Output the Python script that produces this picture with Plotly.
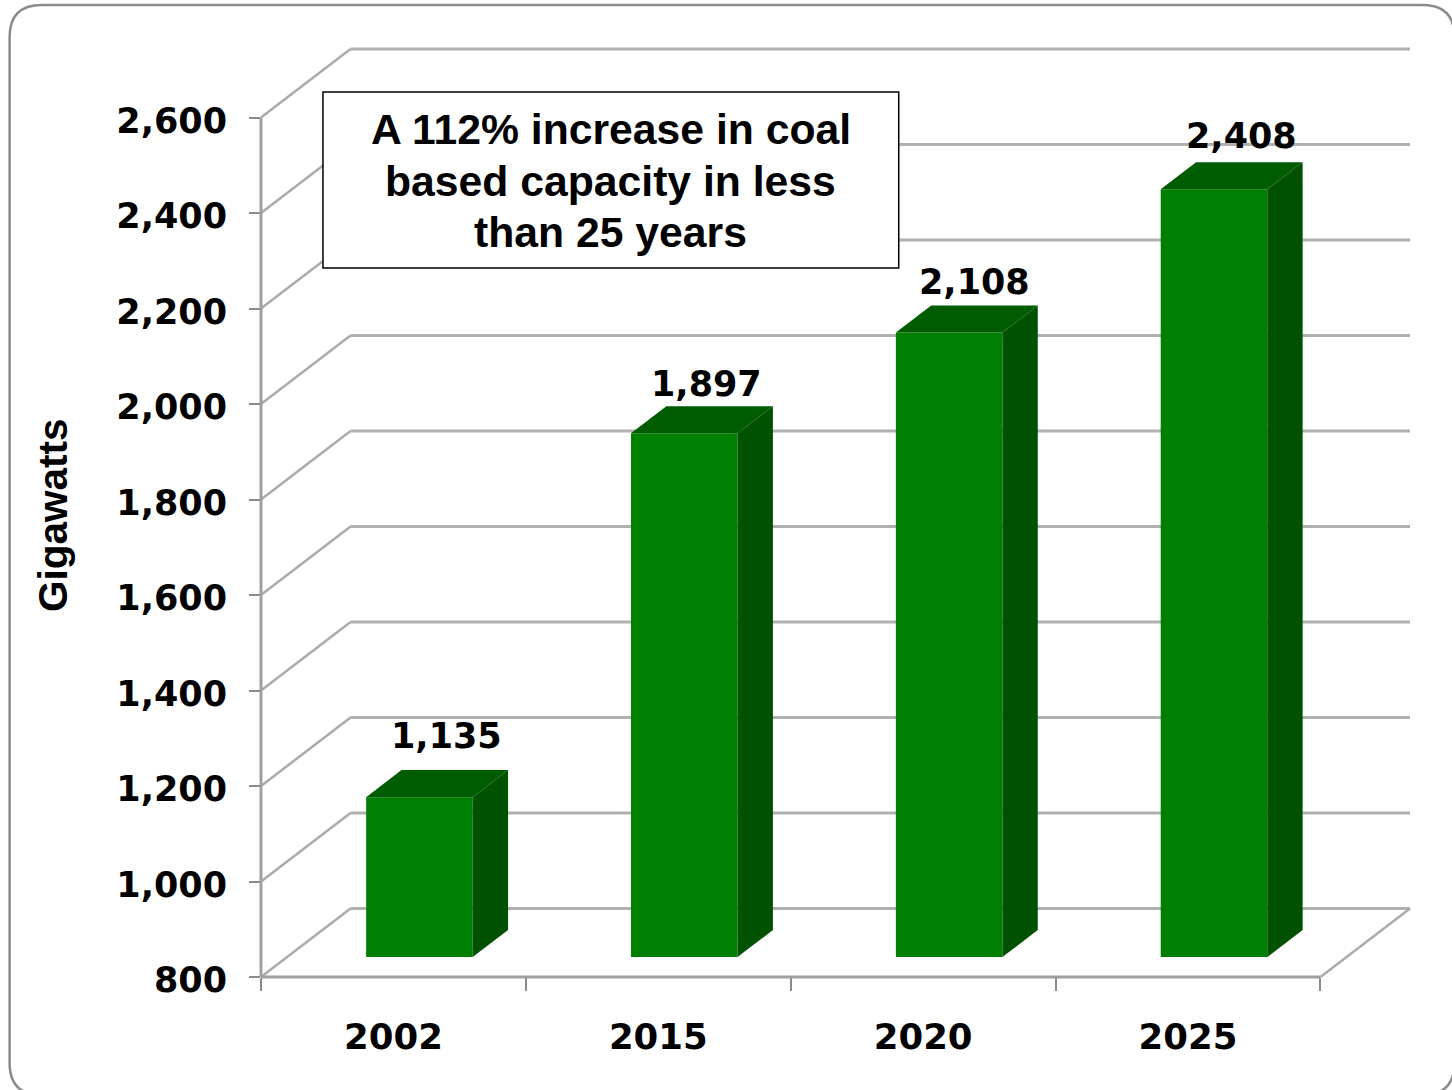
import plotly.graph_objects as go

# ---- data ----
categories = ["2002", "2015", "2020", "2025"]
gigawatts = [1135, 1897, 2108, 2408]
y_ticks = [800, 1000, 1200, 1400, 1600, 1800, 2000, 2200, 2400, 2600]
y_title = "Gigawatts"
callout_lines = ["A 112% increase in coal", "based capacity in less", "than 25 years"]

# ---- figure geometry ----
W, H = 1452, 1090
PX_L, PX_R, PX_T, PX_B = 261.0, 1410.5, 49.0, 977.0
PX_PER_CAT = 264.75
PX_PER_UNIT = 859 / 1800
DEPTH_X = 89.5 / PX_PER_CAT          # back wall offset, category units
DEPTH_Y = 68.5 / PX_PER_UNIT         # back wall offset, value units
BAR_T0, BAR_T1 = 0.29, 0.685         # depth range of the bars (0 front, 1 back)
BAR_W = 106.5 / PX_PER_CAT
X0, X1 = -0.5, 3.5
Y0, Y1 = y_ticks[0], y_ticks[-1]
X_RANGE = [X0, X1 + DEPTH_X]
Y_RANGE = [Y0, Y1 + DEPTH_Y]

LABEL_DX = [27, 22, 25, 28]
LABEL_DY = [61, 49, 51, 53]

GRID = "#ababab"
FRONT, TOP, SIDE = "#008000", "#005c00", "#005200"
BOLD = "DejaVu Sans"
ARIAL = "Liberation Sans"


def px(x):
    return (x - PX_L) / (PX_R - PX_L)


def py(y):
    return (PX_B - y) / (PX_B - PX_T)


def dom_x(v):
    return (v - X_RANGE[0]) / (X_RANGE[1] - X_RANGE[0])


def dom_y(v):
    return (v - Y_RANGE[0]) / (Y_RANGE[1] - Y_RANGE[0])


def grid_line(xa, ya, xb, yb, color, width):
    # axis-fraction references so edge lines are not clipped at the plot area
    return dict(type="line", xref="x domain", yref="y domain", layer="below",
                x0=dom_x(xa), y0=dom_y(ya), x1=dom_x(xb), y1=dom_y(yb),
                line=dict(color=color, width=width))


fig = go.Figure()

# front faces of the bars
lift = BAR_T0 * DEPTH_Y
fig.add_trace(go.Bar(
    x=[i + BAR_T0 * DEPTH_X for i in range(4)],
    y=[v - Y0 for v in gigawatts],
    base=[Y0 + lift] * 4,
    width=BAR_W,
    marker=dict(color=FRONT, line=dict(width=0)),
    showlegend=False,
    hoverinfo="skip",
))

# top and side faces of the bars
dx = (BAR_T1 - BAR_T0) * DEPTH_X
dy = (BAR_T1 - BAR_T0) * DEPTH_Y
for i, v in enumerate(gigawatts):
    left = i + BAR_T0 * DEPTH_X - BAR_W / 2
    right = left + BAR_W
    top = v + lift
    bottom = Y0 + lift
    fig.add_trace(go.Scatter(
        x=[left, left + dx, right + dx, right, left],
        y=[top, top + dy, top + dy, top, top],
        mode="lines", fill="toself", fillcolor=TOP, line=dict(width=0),
        showlegend=False, hoverinfo="skip",
    ))
    fig.add_trace(go.Scatter(
        x=[right, right + dx, right + dx, right, right],
        y=[top, top + dy, bottom + dy, bottom, top],
        mode="lines", fill="toself", fillcolor=SIDE, line=dict(width=0),
        showlegend=False, hoverinfo="skip",
    ))

# 3D grid: side wall slants and back wall lines, below the bars
shapes = []
for t in y_ticks:
    shapes.append(grid_line(X0, t, X0 + DEPTH_X, t + DEPTH_Y, GRID, 2.5))
    shapes.append(grid_line(X0 + DEPTH_X, t + DEPTH_Y, X1 + DEPTH_X, t + DEPTH_Y, "#b0b0b0", 3))
# floor front, floor right, wall front
shapes.append(grid_line(X0, Y0, X1, Y0, "#a0a0a0", 3))
shapes.append(grid_line(X1, Y0, X1 + DEPTH_X, Y0 + DEPTH_Y, GRID, 2.5))
shapes.append(grid_line(X0, Y0, X0, Y1, "#a0a0a0", 3))

# outer rounded frame
fl, ft, fr, fb, rad = 9.5, 5.0, 1455.0, 1095.0, 32.0
path = (f"M {px(fl + rad)} {py(ft)} L {px(fr - rad)} {py(ft)} "
        f"Q {px(fr)} {py(ft)} {px(fr)} {py(ft + rad)} L {px(fr)} {py(fb - rad)} "
        f"Q {px(fr)} {py(fb)} {px(fr - rad)} {py(fb)} L {px(fl + rad)} {py(fb)} "
        f"Q {px(fl)} {py(fb)} {px(fl)} {py(fb - rad)} L {px(fl)} {py(ft + rad)} "
        f"Q {px(fl)} {py(ft)} {px(fl + rad)} {py(ft)} Z")
shapes.append(dict(type="path", xref="paper", yref="paper", layer="below", path=path,
                   line=dict(color="#8c8c8c", width=2.5)))

# callout box
shapes.append(dict(type="rect", xref="paper", yref="paper", layer="above",
                   x0=px(323), x1=px(899), y0=py(92), y1=py(268),
                   fillcolor="white", line=dict(color="black", width=1.5)))

annotations = []
for i, v in enumerate(gigawatts):
    annotations.append(dict(
        xref="x", yref="y", x=i + BAR_T0 * DEPTH_X, y=v + lift,
        xshift=LABEL_DX[i], yshift=LABEL_DY[i],
        text=f"{v:,}", showarrow=False, xanchor="center", yanchor="middle",
        font=dict(family=BOLD, size=35, color="black", weight="bold"),
    ))
for line, yc in zip(callout_lines, [129, 181, 232]):
    annotations.append(dict(
        xref="paper", yref="paper", x=px(611), y=py(yc),
        text=line, showarrow=False, xanchor="center", yanchor="middle",
        font=dict(family=ARIAL, size=42.7, color="black", weight="bold"),
    ))
annotations.append(dict(
    xref="paper", yref="paper", x=px(53), y=py(515), text=y_title, textangle=-90,
    showarrow=False, xanchor="center", yanchor="middle",
    font=dict(family=ARIAL, size=40.5, color="black", weight="bold"),
))

fig.update_layout(
    width=W, height=H,
    margin=dict(l=PX_L, r=W - PX_R, t=PX_T, b=H - PX_B, pad=0),
    paper_bgcolor="white", plot_bgcolor="white",
    showlegend=False,
    shapes=shapes, annotations=annotations,
    xaxis=dict(
        range=X_RANGE, tickmode="array",
        tickvals=list(range(4)), ticktext=categories,
        ticks="", showgrid=False, zeroline=False, showline=False,
        ticklabelstandoff=35,
        tickfont=dict(family=BOLD, size=35.5, color="black", weight="bold"),
        minor=dict(tickmode="array", tickvals=[-0.5, 0.5, 1.5, 2.5, 3.5], ticks="outside",
                   ticklen=13, tickwidth=2, tickcolor="#8c8c8c", showgrid=False),
    ),
    yaxis=dict(
        range=Y_RANGE, tickmode="array", tickvals=y_ticks,
        ticktext=[f"{t:,}" for t in y_ticks],
        ticks="outside", ticklen=11, tickwidth=2, tickcolor="#8c8c8c",
        showgrid=False, zeroline=False, showline=False,
        ticklabelstandoff=15, ticklabelshift=3,
        tickfont=dict(family=BOLD, size=35, color="black", weight="bold"),
    ),
)

fig.write_html(
    "out.html",
    config={"displayModeBar": False},
    post_script="document.body.style.margin='0';document.documentElement.style.overflow='hidden';",
)
